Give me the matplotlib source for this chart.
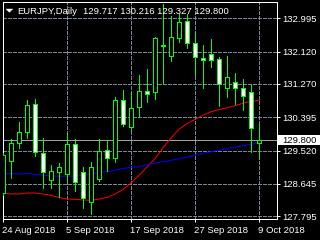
import matplotlib
matplotlib.use("Agg")
import matplotlib.pyplot as plt
import matplotlib.transforms as mtransforms
from matplotlib.patches import Rectangle, Polygon

# ---------------- data ----------------
symbol_label = "EURJPY,Daily"
ohlc_label = "129.717 130.216 129.327 129.800"

dates = ["2018-08-24", "2018-08-27", "2018-08-28", "2018-08-29", "2018-08-30", "2018-08-31",
         "2018-09-03", "2018-09-04", "2018-09-05", "2018-09-06", "2018-09-07", "2018-09-10",
         "2018-09-11", "2018-09-12", "2018-09-13", "2018-09-14", "2018-09-17", "2018-09-18",
         "2018-09-19", "2018-09-20", "2018-09-21", "2018-09-24", "2018-09-25", "2018-09-26",
         "2018-09-27", "2018-09-28", "2018-10-01", "2018-10-02", "2018-10-03", "2018-10-04",
         "2018-10-05", "2018-10-08", "2018-10-09"]

opens = [128.407, 129.256, 129.711, 130.017, 130.735, 129.448, 128.757, 128.949, 128.906,
         129.685, 128.967, 128.179, 128.774, 129.527, 129.335, 130.840, 130.149, 130.674,
         131.085, 131.050, 132.280, 132.013, 132.469, 132.924, 132.337, 131.961, 132.048,
         131.926, 131.155, 131.313, 131.155, 131.050, 129.717]
highs = [129.457, 129.816, 130.263, 130.840, 130.884, 129.842, 129.142, 129.194, 129.974,
         129.816, 129.081, 129.229, 129.825, 129.799, 130.937, 131.112, 131.068, 131.506,
         131.663, 132.512, 133.371, 133.064, 133.099, 133.099, 132.644, 132.293, 132.451,
         131.987, 132.005, 131.549, 131.401, 131.243, 130.216]
lows = [128.354, 128.792, 129.597, 129.842, 129.387, 128.547, 128.547, 128.293, 128.730,
        128.459, 128.004, 127.855, 128.730, 128.993, 129.229, 130.175, 130.061, 130.411,
        130.805, 130.875, 131.260, 131.873, 132.363, 132.206, 131.506, 131.155, 131.724,
        130.700, 130.937, 130.735, 130.586, 129.492, 129.327]
closes = [129.405, 129.711, 130.000, 130.718, 129.492, 128.949, 128.984, 129.081, 129.685,
          128.687, 128.284, 129.081, 129.518, 129.335, 130.840, 130.210, 130.630, 131.085,
          131.015, 132.486, 132.290, 132.495, 132.889, 132.337, 131.970, 131.900, 131.891,
          131.261, 131.444, 131.155, 130.963, 130.105, 129.800]

ma_red = [128.399, 128.381, 128.381, 128.407, 128.407, 128.381, 128.346, 128.283, 128.249,
          128.241, 128.223, 128.215, 128.249, 128.294, 128.381, 128.504, 128.677, 128.880,
          129.098, 129.318, 129.607, 129.859, 130.088, 130.237, 130.342, 130.455, 130.542,
          130.600, 130.647, 130.699, 130.770, 130.810, 130.841]
ma_blue = [128.924, 128.914, 128.906, 128.919, 128.898, 128.872, 128.853, 128.846, 128.846,
           128.853, 128.872, 128.906, 128.940, 128.977, 129.011, 129.050, 129.082, 129.097,
           129.150, 129.195, 129.229, 129.266, 129.308, 129.352, 129.405, 129.450, 129.492,
           129.528, 129.576, 129.615, 129.649, 129.686, 129.720]

x_tick_dates = ["2018-08-24", "2018-09-05", "2018-09-17", "2018-09-27", "2018-10-09"]
x_tick_labels = ["24 Aug 2018", "5 Sep 2018", "17 Sep 2018", "27 Sep 2018", "9 Oct 2018"]
y_ticks = [132.995, 132.120, 131.270, 130.395, 129.520, 128.645, 127.795]
y_tick_labels = ["132.995", "132.120", "131.270", "130.395", "129.520", "128.645", "127.795"]
last_price = 129.800
last_price_label = "129.800"

# ---------------- figure ----------------
W, H = 320, 240
DPI = 100
fig = plt.figure(figsize=(W / DPI, H / DPI), dpi=DPI, facecolor="black")
L, R, T, B = 2.7, 277.3, 2.3, 219.0
ax = fig.add_axes([L / W, 1 - B / H, (R - L) / W, (B - T) / H])
ax.set_facecolor("black")
ymin, ymax = 127.724, 133.415
ax.set_xlim(-0.075, 34.25)
ax.set_ylim(ymin, ymax)

LIME = "#00ff00"
LW = 0.72
FONT = "Liberation Sans"
FS = 6.8

xs = list(range(len(dates)))

# grid
tick_idx = [dates.index(d) for d in x_tick_dates]
ax.set_xticks(tick_idx)
ax.set_yticks(y_ticks)
ax.yaxis.tick_right()
ax.tick_params(axis="x", direction="out", length=2.2, width=LW, color="white",
               labelbottom=False)
ax.tick_params(axis="y", direction="out", length=2.2, width=LW, color="white",
               labelright=False, labelleft=False, left=False, right=True)
ax.grid(True, color="#778899", linestyle=(0, (3, 2)), linewidth=LW, antialiased=False)
ax.set_axisbelow(True)
for sp in ax.spines.values():
    sp.set_color("white")
    sp.set_linewidth(LW)

# bid line
ax.axhline(last_price, color="#a0a0a0", linewidth=LW, zorder=1, antialiased=False)

# moving averages
ax.plot(xs, ma_red, color="#ff0000", linewidth=LW, zorder=2)
ax.plot(xs, ma_blue, color="#0000ff", linewidth=LW, zorder=2)

# candles
ax.vlines(xs, lows, highs, color=LIME, linewidth=LW, zorder=3, antialiased=False)
for i, o, c in zip(xs, opens, closes):
    fc = "white" if c < o else "black"
    ax.add_patch(Rectangle((i - 0.25, min(o, c)), 0.5, abs(c - o), facecolor=fc,
                           edgecolor=LIME, linewidth=LW, zorder=4, antialiased=False))

# y labels
ytrans = mtransforms.blended_transform_factory(ax.transAxes, ax.transData)
down = mtransforms.ScaledTranslation(0, -3.4 / DPI, fig.dpi_scale_trans)
lx = (282.7 - L) / (R - L)
for v, s in zip(y_ticks, y_tick_labels):
    ax.text(lx, v, s, transform=ytrans + down, ha="left", va="baseline", color="white",
            fontsize=FS, family=FONT, clip_on=False)

# last price box
dy = (ymax - ymin) / (B - T)
rtrans = mtransforms.blended_transform_factory(fig.transFigure, ax.transData)
ax.add_patch(Rectangle((278.3 / W, last_price - 5.5 * dy), (W - 278.3) / W, 10 * dy,
                       transform=rtrans, facecolor="white", edgecolor="none",
                       clip_on=False, zorder=5))
ax.text(lx, last_price, last_price_label, transform=ytrans + down, ha="left",
        va="baseline", color="black", fontsize=FS, family=FONT, clip_on=False, zorder=6)

# x labels
xtrans = mtransforms.blended_transform_factory(ax.transData, ax.transAxes)
xoff = mtransforms.ScaledTranslation(-1.1 / DPI, -(233.0 - B) / DPI, fig.dpi_scale_trans)
for i, s in zip(tick_idx, x_tick_labels):
    ax.text(i, 0, s, transform=xtrans + xoff, ha="left", va="baseline", color="white",
            fontsize=FS, family=FONT, clip_on=False)

# title
tri = Polygon([(6 / W, 1 - 9 / H), (12.7 / W, 1 - 9 / H), (9.35 / W, 1 - 12.3 / H)],
              closed=True, transform=fig.transFigure, facecolor="white", edgecolor="white",
              linewidth=0.3)
fig.patches.append(tri)
fig.text(17.6 / W, 1 - 14 / H, symbol_label, ha="left", va="baseline", color="white",
         fontsize=FS, family=FONT)
fig.text(83.3 / W, 1 - 14 / H, ohlc_label, ha="left", va="baseline", color="white",
         fontsize=FS, family=FONT)

fig.savefig("out.png", dpi=DPI, facecolor="black")
